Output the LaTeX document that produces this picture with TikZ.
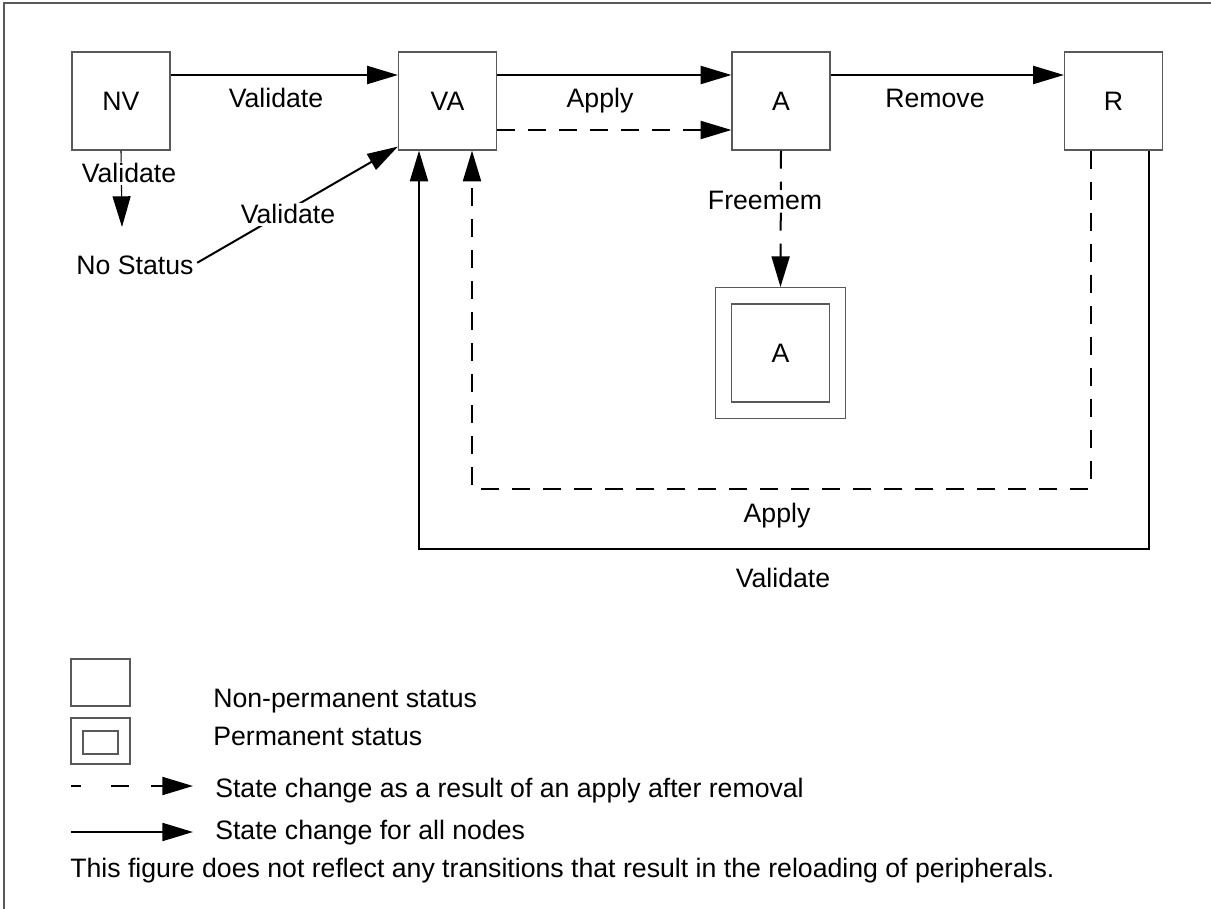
\documentclass[tikz,border=0pt]{standalone}
\usepackage{fontspec}
\setmainfont{Liberation Sans}
\usetikzlibrary{arrows.meta,calc}
\begin{document}
\begin{tikzpicture}[x=0.75pt,y=-0.75pt,
  every node/.style={font=\fontsize{20}{24}\selectfont},
  box/.style={draw=black!65,line width=0.9pt,minimum size=73.5pt,inner sep=0pt},
  tip/.style={-{Triangle[length=23pt,width=13.5pt]}},
  conn/.style={tip,line width=1.5pt},
  thinconn/.style={tip,line width=0.8pt},
  dconn/.style={tip,line width=1.5pt,dash pattern=on 13.5pt off 9.75pt},
  lbl/.style={anchor=base,inner sep=1pt},
  wlbl/.style={anchor=base,inner sep=1pt,fill=white},
  legtext/.style={anchor=base west,inner sep=0pt}]
\useasboundingbox (0,0) rectangle (1211,909);
\draw[black!65,line width=0.9pt] (4,909) -- (4,3) -- (1211,3);
% states
\node[box] (NV) at (121,101) {NV};
\node[box] (VA) at (447.5,101) {VA};
\node[box] (A) at (781,101) {A};
\node[box] (R) at (1113.5,101) {R};
\node[box,minimum size=98pt] (PA) at (780.5,353) {};
\node[box] (PAi) at (780.5,353) {A};
% top row transitions
\draw[conn] ($(NV.east)+(0,-26)$) -- ($(VA.west)+(0,-26)$);
\node[lbl] (l1) at (276,108) {Validate};
\draw[conn] ($(VA.east)+(0,-26)$) -- ($(A.west)+(0,-26)$);
\node[lbl] (l2) at (600,108) {Apply};
\draw[dconn] ($(VA.east)+(0,29)$) -- ($(A.west)+(0,29)$);
\draw[conn] ($(A.east)+(0,-26)$) -- ($(R.west)+(0,-26)$);
\node[lbl] (l3) at (935,108) {Remove};
% NV -> no status
\node[lbl] (NS) at (135,275) {No Status};
\coordinate (nstop) at (122,227);
\draw[thinconn] (NV.south) -- (nstop);
\node[wlbl] (l4) at (129,183) {Validate};
% no status -> VA
\draw[conn] ($(NS.east)+(2,-3)$) -- ($(VA.south west)+(0,-4)$);
\node[wlbl] (l5) at (288,224) {Validate};
% freemem
\draw[dconn] (A.south) -- (PA.north);
\node[wlbl] (l6) at (765,210) {Freemem};
% loops
\draw[dconn] ($(R.south)+(-22.5,0)$) |- ($(VA.south)+(24.5,338)$) -- ($(VA.south)+(24.5,0)$);
\node[lbl] (l7) at (777,522) {Apply};
\draw[conn] ($(R.south)+(35.5,0)$) |- ($(VA.south)+(-28.5,398)$) -- ($(VA.south)+(-28.5,0)$);
\node[lbl] (l8) at (783,587) {Validate};
% legend
\node[box,minimum width=44.25pt,minimum height=35.25pt] (L1) at (100.5,682.5) {};
\node[legtext] (t1) at (213,707) {Non-permanent status};
\node[box,minimum width=44.25pt,minimum height=34.5pt] (L2) at (100.5,741) {};
\node[box,minimum width=26.25pt,minimum height=17.25pt] (L2i) at (100.5,742.5) {};
\node[legtext] (t2) at (213,745) {Permanent status};
\coordinate (la1) at (71,786);
\coordinate (la2) at (193,786);
\draw[tip,line width=1.5pt,dash pattern=on 7.5pt off 22.5pt on 13.5pt off 16.5pt on 40pt off 0pt] (la1) -- (la2);
\node[legtext] (t3) at (215,797) {State change as a result of an apply after removal};
\coordinate (lb1) at (71,832);
\coordinate (lb2) at (193,832);
\draw[conn] (lb1) -- (lb2);
\node[legtext] (t4) at (215,839) {State change for all nodes};
\node[legtext] (t5) at (70,877) {This figure does not reflect any transitions that result in the reloading of peripherals.};
\end{tikzpicture}
\end{document}
